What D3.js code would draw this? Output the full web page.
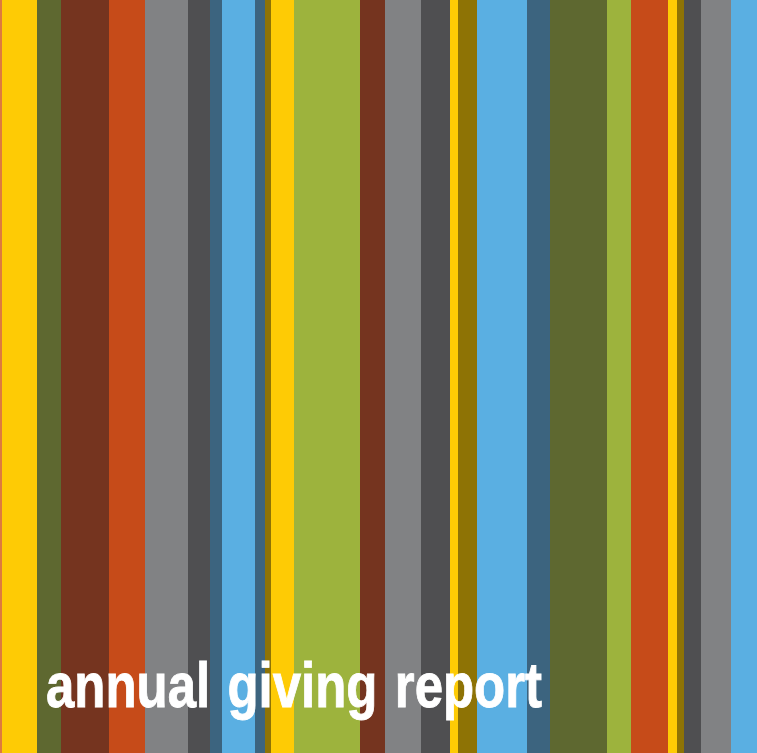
<!DOCTYPE html>
<html>
<head>
<meta charset="utf-8" />
<title>annual giving report</title>
<style>
html, body {
    margin: 0;
    padding: 0;
    background: #fff;
}
#graph {
    width: 757px;
    height: 753px;
}
</style>
</head>
<body>
<div id="graph"></div>
<script src="https://d3js.org/d3.v7.min.js"></script>
<script>
// stripe widths, left to right (px in the original artwork)
var widths = [2, 35, 24, 48, 36, 43, 22, 12, 33, 10, 6, 23, 66, 25, 36, 29, 8, 19, 50, 23, 57, 24, 37, 9, 7, 17, 30, 26];
var colorNames = ["edge", "yellow", "olive", "brown", "orange", "gray", "charcoal", "steel", "sky", "steel", "gold", "yellow", "green", "brown", "gray", "charcoal", "yellow", "gold", "sky", "steel", "olive", "green", "orange", "yellow", "gold", "charcoal", "gray", "sky"];
var palette = {
    edge: "#dd7a3e", yellow: "#fecb05", olive: "#5e6830", brown: "#75341f",
    orange: "#c64b19", gray: "#818284", charcoal: "#4f4f51", steel: "#3c647f",
    sky: "#5aafe2", green: "#9db33d", gold: "#8e7305"
};
var title = "annual giving report";

!(function(){
    "use strict"
    var width = 757, height = 753;

    var svg = d3.select("#graph").append("svg")
        .attr("width", width).attr("height", height)
        .style("display", "block");

    var ends = d3.cumsum(widths);
    var stripes = widths.map(function(w, i){
        return { x0: ends[i] - w, x1: ends[i], color: palette[colorNames[i]] };
    });

    var xScale = d3.scaleLinear()
        .domain([0, ends[ends.length - 1]])
        .range([0, width]);

    svg.append("g").classed("stripes", true)
        .selectAll("rect")
        .data(stripes)
        .enter().append("rect")
        .attr("x", function(d){ return xScale(d.x0) })
        .attr("width", function(d){ return xScale(d.x1) - xScale(d.x0) + 0.3 })
        .attr("y", 0)
        .attr("height", height)
        .attr("fill", function(d){ return d.color })

    // a thin white stroke thickens the glyphs toward the heavier original face
    svg.append("text")
        .attr("x", 46)
        .attr("y", 707)
        .attr("textLength", 496)
        .attr("lengthAdjust", "spacingAndGlyphs")
        .attr("font-family", "'Liberation Sans', Arial, sans-serif")
        .attr("font-weight", "bold")
        .attr("font-size", 63)
        .attr("fill", "#fff")
        .attr("stroke", "#fff")
        .attr("stroke-width", 0.9)
        .attr("word-spacing", 4)
        .text(title)
}());
</script>
</body>
</html>
